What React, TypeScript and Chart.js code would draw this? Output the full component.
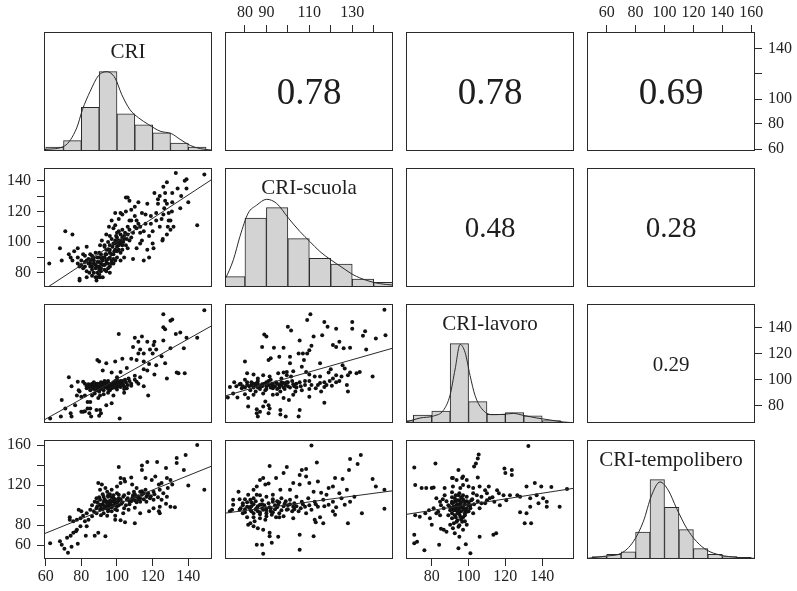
import React, { useEffect, useRef } from "react";
import { Chart, registerables } from "chart.js";

Chart.register(...registerables);

// ---------------- DATA ----------------
const variableNames = ["CRI", "CRI-scuola", "CRI-lavoro", "CRI-tempolibero"];

// value range of each variable along the horizontal / vertical direction
const xRanges = [[59.05, 153.3], [70.7, 149.0], [66.0, 157.3], [46.4, 162.6]];
const yRanges = [[58.4, 153.6], [70.7, 148.3], [67.0, 157.8], [46.3, 165.0]];

// tick values and labels
const scuolaTopTicks = [80, 90, 100, 110, 120, 130, 140];
const scuolaTopLabels = [80, 90, 110, 130];
const tempoTopTicks = [60, 80, 100, 120, 140, 160];
const tempoTopLabels = [60, 80, 100, 120, 140, 160];
const criRightTicks = [60, 80, 100, 120, 140];
const criRightLabels = [60, 80, 100, 140];
const lavoroRightTicks = [80, 100, 120, 140];
const lavoroRightLabels = [80, 100, 120, 140];
const scuolaLeftTicks = [80, 90, 100, 110, 120, 130, 140];
const scuolaLeftLabels = [80, 100, 120, 140];
const tempoLeftTicks = [60, 80, 100, 120, 140, 160];
const tempoLeftLabels = [60, 80, 120, 160];
const criBottomTicks = [60, 80, 100, 120, 140];
const criBottomLabels = [60, 80, 100, 120, 140];
const lavoroBottomTicks = [80, 100, 120, 140];
const lavoroBottomLabels = [80, 100, 120, 140];

// correlations (upper panels, row-major)
const correlations = [0.78, 0.78, 0.69, 0.48, 0.28, 0.29];

// histograms: bin starts (width 10) and relative counts
const binWidth = 10;
const criBins = [60, 70, 80, 90, 100, 110, 120, 130, 140];
const criCounts = [5, 13, 55, 100, 47, 33, 23, 10, 5];
const scuolaBins = [70, 80, 90, 100, 110, 120, 130, 140];
const scuolaCounts = [13, 87, 100, 61, 36, 29, 10, 6];
const lavoroBins = [60, 70, 80, 90, 100, 110, 120, 130, 140, 150];
const lavoroCounts = [3, 10, 15, 100, 27, 11, 13, 9, 3, 1];
const tempoBins = [50, 60, 70, 80, 90, 100, 110, 120, 130, 140, 150];
const tempoCounts = [3, 6, 9, 34, 100, 65, 37, 13, 6, 3, 2];

// density curves (relative to tallest bar)
const criDensity = [[59, 0.015], [60.6, 0.021], [70.5, 0.063], [77.4, 0.29], [80.6, 0.52], [84.9, 0.75], [89.6, 0.95], [94.3, 1.0], [98.9, 0.92], [102.7, 0.71], [107.3, 0.52], [112, 0.42], [117.6, 0.335], [124.2, 0.25], [130.4, 0.22], [135.4, 0.147], [141.1, 0.07], [146.7, 0.03], [153.3, 0.012]];
const scuolaDensity = [[70.7, 0.1], [71, 0.113], [74.6, 0.343], [77.7, 0.64], [81.5, 0.93], [85.4, 1.03], [90.1, 1.105], [94.7, 1.055], [100.3, 0.867], [105.6, 0.7], [110.2, 0.574], [114.9, 0.448], [120, 0.343], [125.7, 0.239], [130.4, 0.155], [136.6, 0.084], [142.8, 0.042], [149, 0.025]];
const lavoroDensity = [[66, 0.012], [73.6, 0.063], [80.9, 0.088], [86.3, 0.159], [89.9, 0.348], [92.7, 0.68], [95.4, 0.99], [98.1, 0.89], [100.8, 0.6], [103.5, 0.348], [107.2, 0.18], [112.6, 0.105], [118.9, 0.109], [124.3, 0.121], [129.8, 0.096], [137.1, 0.063], [144.3, 0.038], [151.5, 0.013], [157.3, 0.004]];
const tempoDensity = [[46.4, 0.008], [60, 0.038], [69.9, 0.071], [78.4, 0.218], [85.3, 0.469], [91.1, 0.804], [96.9, 0.971], [102.6, 0.867], [108.4, 0.637], [115.4, 0.386], [122.3, 0.218], [129.2, 0.113], [138.4, 0.05], [150, 0.021], [162.6, 0.008]];

// regression lines: [x0, y0, x1, y1]
const fitCriScuola = [61.5, 70.9, 153.3, 140.9];
const fitCriLavoro = [60, 70, 153.3, 141.3];
const fitScuolaLavoro = [71.0, 87.8, 148.7, 124.0];
const fitCriTempo = [59.3, 71.6, 153.3, 139.1];
const fitScuolaTempo = [71.0, 92.1, 148.7, 114.3];
const fitLavoroTempo = [66.4, 90.9, 157.1, 116.8];

// scatter points [x, y]
const criScuola = [[62,86],[68,96],[69,88],[71,107],[75,105],[73,92],[74,90],[75,88],[76,94],[78,96],[78,90],[78,86],[79,84],[79,76],[79,75],[83,77],[80,88],[81,92],[82,87],[83,97],[84,89],[85,86],[85,84],[86,82],[87,88],[88,85],[89,80],[90,79],[90,93],[90,87],[91,83],[92,90],[93,97],[94,88],[94,81],[95,100],[96,93],[96,104],[96,95],[97,88],[98,109],[98,99],[98,86],[99,111],[99,95],[99.5,104],[100,97],[100,90],[101,107],[101,115],[101,101],[102,93],[102,88],[103,118],[103,98],[103,108],[104,90],[104,102],[105,120],[105,129],[106,129],[107,127],[106,96],[106,110],[107,114],[107,101],[108,121],[109,89],[109,106],[110,123],[111,96],[111,114],[112,126],[113,99],[113,110],[114,119],[115,88],[115,107],[116,112],[117,125],[118,104],[119,117],[120,99],[120,107],[121,132],[122,119],[123,125],[124,110],[124,130],[125,115],[125.5,101],[126,136],[126.5,122],[127,132],[128,125],[128,139],[128.5,110],[129,119],[130,108],[130,114],[131,126],[131,132],[133,145],[134,135],[135.5,122],[136,130],[138,140],[139,135],[140,126],[145,111],[149,144],[139,141],[85,92],[86,89],[86,84],[87,90],[88,83],[89,87],[90,90],[90,84],[91,81],[91.5,89],[92,77],[92,85],[93,82],[93.5,92],[94,86],[95,89],[95,95],[96,84],[97,92],[97.5,97],[98,89],[98.5,94],[99,99],[100,103],[100.5,100],[101,95],[102,105],[102,99],[103,103],[103.5,100],[104.5,106],[105.5,102],[82,84],[83,81],[83,88],[84.5,80],[88,77],[88.5,75],[90.5,77],[81,83],[90.5,98],[91.5,101],[93,98],[94,105],[95.5,110],[97,114],[99,119],[102,119],[108,114],[111,109],[114,101],[117,95],[118,90],[120.5,96],[125.7,102],[128,105],[129,114],[131.7,110],[130.8,120],[84,86],[85,88],[86,91],[87,86],[87,80],[88,93],[89,90],[89,84],[90,82],[91,86],[91,92],[92,88],[93,85],[93,90],[94,92],[94,95],[95,86],[95,83],[96,90],[96,98],[97,86],[97,102],[98,92],[99,88],[99,101],[100,94],[100,106],[101,98],[102,101],[103,95],[104,104],[105,98],[106,105],[107,108],[108,103],[110,110],[112,112],[113,106],[116,118],[119,112],[122,114],[126,118],[127,127],[123,128],[110,117],[82,91],[80,85],[86,78],[89,77],[96,80]];

const criLavoro = [[149,153],[126,150],[130,145],[131,146],[126,140],[127,138.5],[135.5,136],[133,135],[101,135],[145,132],[139,132],[110,132],[114,133],[112,129],[117,129],[121,129],[126,130],[120.5,126.5],[109,125],[113,123],[115,120],[118.5,123],[122,123],[130,124],[137.5,124],[108,116],[111,115],[115,114],[103,116],[89,115],[90,114],[122,111],[127,112.5],[128,101],[133.5,105.5],[134.5,105],[138,105],[121,104],[117,107],[94,112.5],[99,114],[92,107],[97,105.5],[100,102],[102,106],[105.5,109],[73,102],[78,98.5],[74.5,95],[81,98.5],[82,97],[84,96.5],[86,97],[88,96],[89.5,96.5],[91.5,95.5],[93,96],[95,95.5],[97,96.5],[99,97],[101,98],[103,99],[104.5,100],[106.5,101],[83,93.5],[85,92],[87,94],[88.5,92],[90.5,93.5],[92.5,92],[94,94],[96,92],[98,94],[100,92.5],[102,94.5],[103.5,96],[105.5,93.5],[108,95.5],[111,98.5],[115,95],[113,102],[117.5,88],[79,91],[77.5,88],[80,87],[82,88],[83.5,83],[86,88],[87.5,89.5],[90.5,88],[92.5,89],[94,80.5],[97,82],[89.5,86],[85,83],[83.5,78],[85,78],[82,76],[80,75.5],[81,75.5],[84.5,74.5],[88.5,77],[90.5,77],[91,74.5],[69,84.5],[71,78],[62.5,70.5],[68.5,72],[74,74.5],[74.5,72],[85.5,72],[90,72.5],[101.5,70.5],[76.5,80.5],[78.5,92],[86,95],[88,97],[90,95],[92,97.5],[94,97],[96,95],[98,96],[100,95],[91,93],[95,93],[89,94],[93,94.5],[97,93.5],[99,99],[95,99],[91,98],[87,93],[84,94],[102,97],[104,95],[83,95],[85,96],[86,94],[87,96],[88,95],[89,97],[90,96],[91,94],[92,96],[93,95],[94,98],[95,94],[96,97],[97,95],[98,98],[99,94],[100,97],[101,95],[102,99],[103,97],[104,93],[105,98],[106,96],[107,99],[108,97],[110,100],[112,97],[100,100],[93,99],[87,98],[90,91],[95,90],[104,90],[98,88],[110,103],[115,108],[118,112],[120,120],[125,118],[112,120]];

const scuolaLavoro = [[145,153.5],[110.5,150],[109,145.5],[117,144],[130,144],[100,140.5],[101.5,137.5],[118.5,140.5],[122.5,139],[130,139],[136,137],[89,134.5],[90,133],[112,133],[116,134],[135,133.5],[141,131.5],[145.5,134],[105.5,130],[124,129],[121,126.5],[122.5,125],[88,125],[93.5,124.5],[98,124.5],[126,124],[129,124.5],[136.5,123],[111,126],[110,122.5],[109,120],[105,120],[107,120],[96,117.5],[92,116.5],[91,115],[101,117.5],[107.5,115],[101,112.5],[80,114],[106.5,110],[115,112.5],[125.5,111],[126.5,108.5],[99.5,106],[102.5,106.5],[81,105],[84,104],[88.5,103.5],[91.5,102.5],[95.5,105],[98,105.5],[99.5,103.5],[101.5,102.5],[108.5,106],[112.5,102.5],[115,102.5],[119,105.5],[122.5,103.5],[129,105.5],[132,105],[133.5,106],[139.5,102.5],[121,101],[125,102.5],[128,103.5],[75,98],[77.5,96.5],[81,98],[83,96],[85.5,97.5],[88,96.5],[90,98],[92.5,96.5],[94.5,98],[97,96],[99.5,98],[102.5,96.5],[105.5,98],[110,99],[115,97.5],[117,98],[119.5,99],[122.5,98],[73,94.5],[78.5,93.5],[82.5,92],[86,94],[89.5,92],[93,93.5],[96.5,91],[98.5,93],[103.5,91],[106.5,92],[110,93],[113,93.5],[117,94.5],[120.5,95.5],[127.5,96],[128,91],[74.5,89.5],[80,89],[84,88.5],[88.5,89.5],[93,88.5],[98,86],[102.5,88.5],[110,87],[115.5,91],[72,86.5],[76.5,86.5],[81.5,86],[89.5,83.5],[100.5,84.5],[117,82.5],[88.5,79.5],[91,80.5],[81.5,79.5],[85.5,77.5],[91.5,78],[96.5,77],[105.5,77],[85.5,74.5],[86,72],[91,74.5],[96.5,73.5],[99,72],[105,72],[87,75.5],[79,95],[84,97],[87,95],[91,96],[93,95],[95,97],[96,94],[98,97.5],[100,95],[86,99],[90,93],[82,95],[104,94],[108,96],[76,95],[78,97],[80,94],[81,96],[83,98],[84,94],[85,96],[86,97],[87,93],[88,95],[89,97],[90,95],[91,99],[92,94],[93,97],[94,95],[95,93],[96,96],[97,98],[98,94],[99,96],[100,98],[101,94],[102,99],[103,95],[104,97],[106,95],[108,99],[111,96],[114,96],[118,96],[124,99],[80,100],[86,101],[92,100],[97,101],[110,104],[120,108],[85,91],[95,89]];

const criTempo = [[145,160],[138.5,150],[133.5,147],[133.5,142],[137.5,135],[140,119.5],[149,115.5],[127.5,137],[122.5,143],[117,143],[114,139.5],[114,135],[116,127],[119.5,125],[121.5,128.5],[101,138],[102,127],[104,126],[108,127.5],[128,127],[130,125],[125,122],[123.5,120.5],[131,120.5],[128.5,117],[124,115.5],[126,112],[128,108.5],[125,105.5],[127.5,101.5],[124,98.5],[123.5,94],[124,92],[130,98.5],[132.5,98],[118,94],[110,82],[104.5,83],[102,85],[99,85.5],[99,89.5],[103.5,92],[89.5,122],[91.5,120.5],[93.5,117],[90.5,115.5],[94.5,113.5],[97,115.5],[100,118.5],[102,122],[104.5,123.5],[108.5,120.5],[111,117],[113,113.5],[116,115.5],[117.5,112],[120.5,113.5],[109.5,113.5],[106.5,112],[103.5,108.5],[101,110.5],[98,107],[95,108.5],[92.5,108.5],[90.5,105.5],[88.5,107],[87.5,103.5],[90.5,100.5],[92.5,103.5],[94.5,102],[96,104.5],[99,102],[101,104.5],[102.5,101.5],[105.5,105.5],[108.5,107],[111,108.5],[114,110.5],[116.5,108.5],[118.5,107],[120.5,105.5],[113,103.5],[116.5,103.5],[96,98.5],[93.5,97],[90.5,95.5],[88.5,97],[87,94],[85,95.5],[83,92],[86,89],[88.5,92],[92.5,92],[94.5,89.5],[97,94],[81,89.5],[79.5,87],[77.5,85.5],[82,84],[84,85.5],[78.5,95.5],[80,94],[75.5,84],[73.5,88],[73.5,85.5],[79.5,79],[77.5,75.5],[75.5,72.5],[74,69.5],[77,74],[82.5,69.5],[87.5,69.5],[89.5,72.5],[93.5,69],[83,79],[62.5,62],[68,64],[69,60.5],[70.5,56.5],[72.5,52.5],[74.5,58.5],[78,61.5],[72,67.5],[110,97.5],[106.5,95.5],[113,92],[120.5,97],[91,100],[93,106],[95,101],[97,100],[99,96],[92,96],[96,111],[98,104],[94,99],[100,99],[89,99],[97,108],[95,96],[101,107],[105,100],[107,104],[110,105],[112,106],[109,110],[115,112],[89,103],[90,108],[91,97],[92,101],[92,111],[93,99],[94,104],[95,97],[95,110],[96,102],[97,98],[97,104],[98,100],[98,110],[99,106],[100,103],[100,112],[101,100],[102,106],[103,103],[104,110],[104,97],[106,107],[107,101],[108,104],[109,108],[110,111],[111,103],[112,109],[113,107],[114,114],[115,106],[117,110],[119,109],[121,111],[123,108],[95,94],[100,95],[91,90],[86,100]];

const scuolaTempo = [[111,159.5],[113.5,142.5],[134,150],[129,146],[128.5,135],[132.5,141],[139.5,126],[141,118.5],[145,115.5],[145,96.5],[134.5,92],[128,82],[124,112],[125.5,126],[122,127],[121,118.5],[118,110.5],[115.5,112.5],[112,113.5],[110,122],[105.5,130],[106.5,135],[108.5,136],[99.5,138],[98,132],[94.5,127],[91.5,139],[88.5,127],[87,125],[89.5,120.5],[91,121.5],[85.5,118.5],[84,115.5],[85.5,110.5],[84,107],[81.5,110.5],[77.5,106],[77,113.5],[74.5,100.5],[74,95.5],[73,94],[77.5,95.5],[81,98.5],[82.5,95.5],[84,92],[85.5,97],[87,100.5],[88.5,95.5],[90,92],[91.5,98],[93,103.5],[95.5,100.5],[97,107],[98.5,101.5],[99.5,95.5],[101,105.5],[102.5,98.5],[104,108.5],[105,94],[106.5,103.5],[108,98.5],[109.5,107],[111,95.5],[112.5,103.5],[114,98.5],[116.5,105.5],[119,100.5],[121,103.5],[122.5,98],[125,107],[126.5,100.5],[129,103.5],[131,108.5],[122,90.5],[115,88],[112.5,85.5],[108.5,92],[102.5,87],[98,89],[94.5,88],[92.5,90.5],[89.5,85.5],[87,87],[84.5,84],[82.5,82],[81,88],[81.5,80.5],[84,79],[86,77],[88.5,75.5],[91.5,72.5],[95.5,68.5],[92.5,62.5],[91.5,69],[85.5,60.5],[88,60.5],[88.5,51.5],[105.5,70.5],[105.5,55.5],[112,69],[113,83],[116.5,82],[121,94],[74.5,105.5],[79,102],[82.5,105.5],[90,108.5],[93,110.5],[96.5,115.5],[101,115.5],[102.5,122],[105.5,120.5],[108.5,128.5],[114,123.5],[119,117],[127.5,115.5],[80,96],[83,99],[86,94],[88,101],[90,97],[92,94],[94,96],[96,92],[83,103],[87,91],[79,92],[95,104],[100,100],[103,96],[78,97],[79,100],[80,93],[81,103],[82,98],[83,94],[84,101],[85,96],[85,104],[86,99],[87,93],[88,97],[88,105],[89,100],[90,95],[91,102],[92,97],[93,93],[93,106],[94,100],[95,98],[96,103],[97,95],[98,99],[99,104],[100,96],[101,101],[102,94],[103,102],[104,99],[106,97],[107,101],[110,100],[113,101],[117,99],[84,88],[90,89],[96,88],[80,106],[87,110]];

const lavoroTempo = [[132.5,159],[70.5,137.5],[105.5,150.5],[105,146.5],[103,138.5],[104,141.5],[82,141.5],[94.5,135],[91,127],[91.5,127],[93.5,125],[96.5,127],[99,125],[97,128.5],[119.5,136.5],[123.5,135],[123.5,130],[120,132],[105,127.5],[74.5,117],[71,120],[77,117],[81,117.5],[87,117],[91.5,118.5],[95.5,117],[97,120],[100,118.5],[102.5,117],[106,118.5],[111,118.5],[115.5,115],[119,110],[122.5,110],[126.5,110],[128,108.5],[131.5,118.5],[136,122],[139.5,118.5],[145,118],[153.5,116],[133.5,107],[137,110],[140.5,107],[142.5,103.5],[138,102],[142.5,98.5],[149.5,98.5],[128,93],[131.5,92],[133.5,98.5],[130.5,82],[134,82],[116.5,112],[110,112],[107,108.5],[104.5,110],[111.5,107],[114,103.5],[117,100],[120.5,105],[109,102],[106,97],[101.5,105],[99,108.5],[98,103.5],[94.5,110],[92.5,107],[91,103.5],[89,100],[90,95],[91.5,97],[93.5,100],[95.5,102],[97,97],[99,93.5],[101,97],[102.5,92],[94.5,93.5],[92.5,90],[95.5,88.5],[98,90],[91,87],[93.5,83.5],[96.5,83.5],[90,80.5],[91.5,77],[94.5,78.5],[97,75.5],[99,80.5],[92.5,72],[95,68.5],[83.5,93.5],[84.5,90],[86.5,97],[81,97],[78.5,95],[76.5,92],[73.5,88.5],[71,90],[79,87],[82.5,92],[86.5,75.5],[85,76.5],[88,73.5],[80,80.5],[70.5,70.5],[70.5,62],[72,63.5],[84,60.5],[76,55],[94.5,57],[98.5,61],[101,52],[106,68.5],[113.5,70.5],[115,72],[102.5,112],[109,115],[87,110],[84.5,103.5],[82.5,107],[80,117],[93,95],[95,105],[96,99],[94,101],[92,99],[97,106],[98,95],[95,91],[93,104],[96,108],[91,92],[100,100],[94,96],[97,88],[90,98],[91,102],[91,108],[92,95],[92,103],[93,98],[93,110],[94,92],[94,105],[95,97],[95,100],[95,112],[96,94],[96,103],[97,99],[97,110],[98,101],[98,92],[99,104],[99,97],[100,103],[100,94],[101,100],[102,106],[93,88],[94,85],[96,86],[92,82],[98,84],[95,80],[103,101],[105,104],[107,102],[110,105],[113,108],[88,104],[86,106],[85,100],[89,90],[91,113]];

// ---------------- LAYOUT / STYLE ----------------
const W = 797;
const H = 591;
const colLeft = [44, 225, 406, 587];
const panelW = 168;
const rowTop = [32, 168, 304, 440];
const panelH = 119;
const AXIS_W = 40;
const AXIS_H = 30;
const FONT = '"Liberation Serif", "Times New Roman", serif';
const INK = "#2a2a2a";
const corrFontSizes = [37, 37, 37, 29, 29, 21];

const histData = [
  { bins: criBins, counts: criCounts, dens: criDensity },
  { bins: scuolaBins, counts: scuolaCounts, dens: scuolaDensity },
  { bins: lavoroBins, counts: lavoroCounts, dens: lavoroDensity },
  { bins: tempoBins, counts: tempoCounts, dens: tempoDensity },
];

const lowerData: Record<string, { pts: number[][]; fit: number[] }> = {
  "1-0": { pts: criScuola, fit: fitCriScuola },
  "2-0": { pts: criLavoro, fit: fitCriLavoro },
  "2-1": { pts: scuolaLavoro, fit: fitScuolaLavoro },
  "3-0": { pts: criTempo, fit: fitCriTempo },
  "3-1": { pts: scuolaTempo, fit: fitScuolaTempo },
  "3-2": { pts: lavoroTempo, fit: fitLavoroTempo },
};

const topAxes: Record<number, number[][]> = { 1: [scuolaTopTicks, scuolaTopLabels], 3: [tempoTopTicks, tempoTopLabels] };
const bottomAxes: Record<number, number[][]> = { 0: [criBottomTicks, criBottomLabels], 2: [lavoroBottomTicks, lavoroBottomLabels] };
const leftAxes: Record<number, number[][]> = { 1: [scuolaLeftTicks, scuolaLeftLabels], 3: [tempoLeftTicks, tempoLeftLabels] };
const rightAxes: Record<number, number[][]> = { 0: [criRightTicks, criRightLabels], 2: [lavoroRightTicks, lavoroRightLabels] };

const framePlugin = {
  id: "frame",
  afterDraw(chart: any) {
    const { ctx, chartArea: a } = chart;
    ctx.save();
    ctx.strokeStyle = INK;
    ctx.lineWidth = 1;
    ctx.strokeRect(a.left + 0.5, a.top + 0.5, a.right - a.left - 1, a.bottom - a.top - 1);
    ctx.restore();
  },
};

const textPlugin = {
  id: "panelText",
  afterDraw(chart: any, _args: any, opts: any) {
    if (!opts || !opts.text) return;
    const { ctx, chartArea: a } = chart;
    ctx.save();
    ctx.fillStyle = "#1e1e1e";
    ctx.font = `${opts.size}px ${FONT}`;
    ctx.textAlign = "center";
    ctx.textBaseline = "alphabetic";
    const cx = (a.left + a.right) / 2;
    const y = opts.place === "top" ? a.top + opts.offset : (a.top + a.bottom) / 2 + opts.size * 0.34;
    ctx.fillText(opts.text, cx, y);
    ctx.restore();
  },
};

function makeScale(range: number[], dir: "x" | "y", pos: string, spec: number[][] | null, hiddenTicks?: number[]) {
  if (!spec) {
    const s: any = { type: "linear", min: range[0], max: range[1], display: false, offset: false };
    if (hiddenTicks) {
      s.afterBuildTicks = (sc: any) => {
        sc.ticks = hiddenTicks.map((v) => ({ value: v }));
      };
    }
    return s;
  }
  const [ticks, labels] = spec;
  return {
    type: "linear",
    min: range[0],
    max: range[1],
    position: pos,
    display: true,
    offset: false,
    afterBuildTicks: (sc: any) => {
      sc.ticks = ticks.map((v) => ({ value: v }));
    },
    afterFit: (sc: any) => {
      if (dir === "x") sc.height = AXIS_H;
      else sc.width = AXIS_W;
    },
    grid: { display: true, offset: false, drawOnChartArea: false, drawTicks: true, tickLength: 7, color: INK, lineWidth: 1 },
    border: { display: false },
    ticks: {
      autoSkip: false,
      maxRotation: 0,
      minRotation: 0,
      padding: dir === "x" ? (pos === "top" ? 3 : 1) : 6,
      color: "#222",
      font: { family: FONT, size: 16 },
      callback: (v: any) => (labels.includes(Number(v)) ? String(v) : ""),
    },
  };
}

function buildConfig(r: number, c: number): any {
  const hasTop = r === 0 && !!topAxes[c];
  const hasBottom = r === 3 && !!bottomAxes[c];
  const hasLeft = c === 0 && !!leftAxes[r];
  const hasRight = c === 3 && !!rightAxes[r];

  const padding = {
    left: colLeft[c] - (hasLeft ? AXIS_W : 0),
    right: W - (colLeft[c] + panelW) - (hasRight ? AXIS_W : 0),
    top: rowTop[r] - (hasTop ? AXIS_H : 0),
    bottom: H - (rowTop[r] + panelH) - (hasBottom ? AXIS_H : 0),
  };

  const xSpec = hasTop ? topAxes[c] : hasBottom ? bottomAxes[c] : null;
  const ySpec = hasLeft ? leftAxes[r] : hasRight ? rightAxes[r] : null;

  const base: any = {
    responsive: false,
    animation: false,
    devicePixelRatio: 1,
    events: [],
    layout: { padding },
    plugins: { legend: { display: false }, tooltip: { enabled: false } },
  };

  if (r === c) {
    const h = histData[r];
    const maxCount = Math.max(...h.counts);
    const edges = [...h.bins, h.bins[h.bins.length - 1] + binWidth];
    base.scales = {
      x: makeScale(xRanges[c], "x", "bottom", null, edges),
      y: { type: "linear", min: 0, max: 1.5, display: false },
    };
    base.plugins.panelText = { text: variableNames[r], size: 21, place: "top", offset: 25.5 };
    return {
      type: "bar",
      data: {
        datasets: [
          {
            type: "line",
            data: h.dens.map(([x, y]) => ({ x, y })),
            borderColor: INK,
            borderWidth: 1,
            pointRadius: 0,
            cubicInterpolationMode: "monotone",
            fill: false,
            clip: 0,
            order: 0,
          },
          {
            type: "bar",
            data: h.bins.map((b, i) => ({ x: b + binWidth / 2, y: h.counts[i] / maxCount })),
            backgroundColor: "#d3d3d3",
            borderColor: INK,
            borderWidth: 1,
            borderSkipped: false,
            barPercentage: 1,
            categoryPercentage: 1,
            grouped: false,
            clip: 0,
            order: 1,
          },
        ],
      },
      options: base,
      plugins: [framePlugin, textPlugin],
    };
  }

  base.scales = {
    x: makeScale(xRanges[c], "x", hasTop ? "top" : "bottom", xSpec),
    y: makeScale(yRanges[r], "y", hasLeft ? "left" : "right", ySpec),
  };

  if (r < c) {
    const idx = r === 0 ? c - 1 : r === 1 ? c + 1 : 5;
    base.plugins.panelText = {
      text: correlations[idx].toFixed(2),
      size: corrFontSizes[idx],
      place: "center",
    };
    return { type: "scatter", data: { datasets: [] }, options: base, plugins: [framePlugin, textPlugin] };
  }

  const ld = lowerData[`${r}-${c}`];
  const [x0, y0, x1, y1] = ld.fit;
  const m = (y1 - y0) / (x1 - x0);
  const xr = xRanges[c];
  return {
    type: "scatter",
    data: {
      datasets: [
        {
          data: ld.pts.map(([x, y]) => ({ x, y })),
          pointRadius: 2,
          pointBackgroundColor: "#111",
          pointBorderWidth: 0,
          borderWidth: 0,
          order: 1,
        },
        {
          data: [
            { x: xr[0], y: y0 + m * (xr[0] - x0) },
            { x: xr[1], y: y0 + m * (xr[1] - x0) },
          ],
          showLine: true,
          borderColor: INK,
          borderWidth: 1,
          pointRadius: 0,
          clip: 0,
          order: 0,
        },
      ],
    },
    options: base,
    plugins: [framePlugin],
  };
}

export default function App() {
  const refs = useRef<(HTMLCanvasElement | null)[]>([]);

  useEffect(() => {
    const charts: Chart[] = [];
    for (let r = 0; r < 4; r++) {
      for (let c = 0; c < 4; c++) {
        const canvas = refs.current[r * 4 + c];
        if (!canvas) continue;
        charts.push(new Chart(canvas, buildConfig(r, c)));
      }
    }
    return () => {
      charts.forEach((ch) => ch.destroy());
    };
  }, []);

  return (
    <div style={{ position: "absolute", left: 0, top: 0, width: W, height: H, background: "#fff", overflow: "hidden" }}>
      {Array.from({ length: 16 }, (_, i) => (
        <canvas
          key={i}
          ref={(el) => {
            refs.current[i] = el;
          }}
          width={W}
          height={H}
          style={{ position: "absolute", left: 0, top: 0, width: W, height: H }}
        />
      ))}
    </div>
  );
}
